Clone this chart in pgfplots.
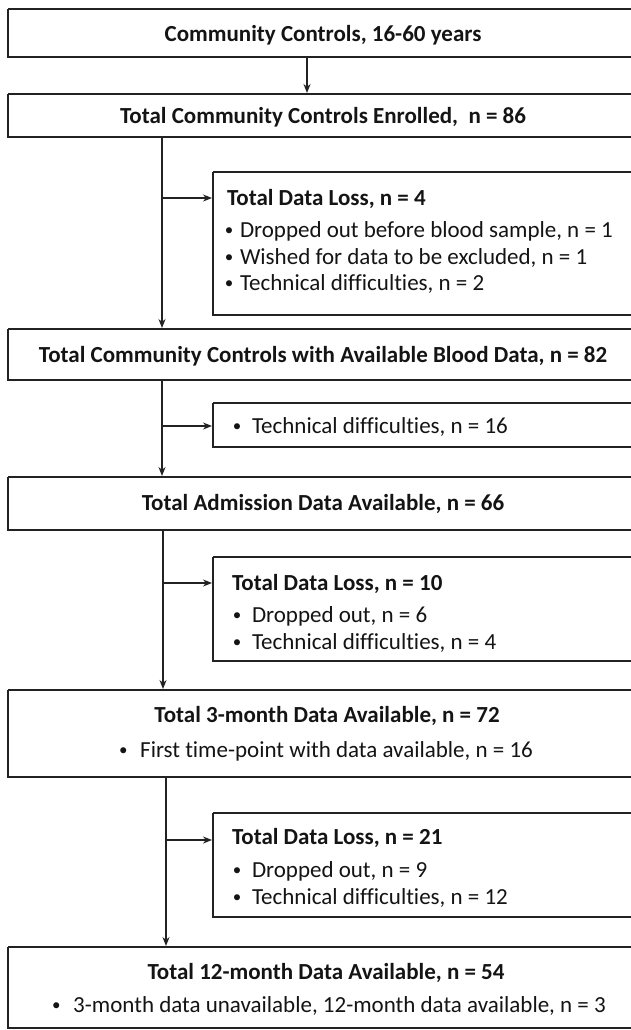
\documentclass[border=0pt]{standalone}
\usepackage{fontspec}
\setmainfont{Carlito}[RawFeature=-liga]
\usepackage{pgfplots}
\pgfplotsset{compat=1.18}
\usetikzlibrary{arrows.meta}
\definecolor{ln}{HTML}{222222}
\definecolor{tx}{HTML}{141414}
\newcommand{\bul}{\raisebox{1.6pt}{\fontsize{17}{17}\selectfont •}}
\tikzset{
  t/.style={inner sep=0pt, outer sep=0pt, text=tx, font=\fontsize{23}{28}\selectfont},
  tb/.style={t, font=\fontsize{23}{28}\selectfont\bfseries},
}
\begin{document}
\begin{tikzpicture}
\begin{axis}[
  scale only axis, width=631pt, height=1030pt,
  xmin=0, xmax=631, ymin=0, ymax=1030, y dir=reverse,
  axis lines=none, clip=true,
  box/.style={draw=ln, line width=1.7pt, no marks},
  arr/.style={draw=ln, line width=1.4pt, no marks, -{Stealth[length=9pt,width=7pt]}},
]
\path (axis cs:0,0) rectangle (axis cs:631,1030);
% boxes
\addplot[box] coordinates {(8,9) (645,9) (645,57) (8,57) (8,9)};
\addplot[box] coordinates {(8,94) (645,94) (645,137) (8,137) (8,94)};
\addplot[box] coordinates {(213,172) (645,172) (645,315) (213,315) (213,172)};
\addplot[box] coordinates {(8,329) (645,329) (645,380) (8,380) (8,329)};
\addplot[box] coordinates {(213,403) (645,403) (645,447) (213,447) (213,403)};
\addplot[box] coordinates {(8,477) (645,477) (645,530) (8,530) (8,477)};
\addplot[box] coordinates {(213,557) (645,557) (645,661) (213,661) (213,557)};
\addplot[box] coordinates {(8,690) (645,690) (645,777) (8,777) (8,690)};
\addplot[box] coordinates {(213,813) (645,813) (645,917) (213,917) (213,813)};
\addplot[box] coordinates {(8,947) (645,947) (645,1028) (8,1028) (8,947)};
% arrows
\addplot[arr] coordinates {(307,57) (307,93)};
\addplot[arr] coordinates {(162,137) (162,328)};
\addplot[arr] coordinates {(162,198) (212,198)};
\addplot[arr] coordinates {(162,380) (162,476)};
\addplot[arr] coordinates {(162,426) (212,426)};
\addplot[arr] coordinates {(163,530) (163,689)};
\addplot[arr] coordinates {(163,583) (212,583)};
\addplot[arr] coordinates {(166,777) (166,946)};
\addplot[arr] coordinates {(166,840) (212,840)};
% texts
\node[tb, anchor=base] at (axis cs:323,42) {Community Controls, 16-60 years};
\node[tb, anchor=base] at (axis cs:323,124) {Total Community Controls Enrolled,\ \ n = 86};
\node[tb, anchor=base west] at (axis cs:227,205) {Total Data Loss, n = 4};
\node[t, anchor=base] at (axis cs:229,237) {\bul};
\node[t, anchor=base west] at (axis cs:240,237) {Dropped out before blood sample, n = 1};
\node[t, anchor=base] at (axis cs:229,264) {\bul};
\node[t, anchor=base west] at (axis cs:240,264) {Wished for data to be excluded, n = 1};
\node[t, anchor=base] at (axis cs:229,290) {\bul};
\node[t, anchor=base west] at (axis cs:240,290) {Technical difficulties, n = 2};
\node[tb, anchor=base] at (axis cs:323,362) {Total Community Controls with Available Blood Data, n = 82};
\node[t, anchor=base] at (axis cs:237,433) {\bul};
\node[t, anchor=base west] at (axis cs:252,433) {Technical difficulties, n = 16};
\node[tb, anchor=base] at (axis cs:323,510) {Total Admission Data Available, n = 66};
\node[tb, anchor=base west] at (axis cs:232,590) {Total Data Loss, n = 10};
\node[t, anchor=base] at (axis cs:237,622) {\bul};
\node[t, anchor=base west] at (axis cs:252,622) {Dropped out, n = 6};
\node[t, anchor=base] at (axis cs:237,649) {\bul};
\node[t, anchor=base west] at (axis cs:252,649) {Technical difficulties, n = 4};
\node[tb, anchor=base] at (axis cs:327,722) {Total 3-month Data Available, n = 72};
\node[t, anchor=base] at (axis cs:326,757) {\bul\hspace{0.55em}First time-point with data available, n = 16};
\node[tb, anchor=base west] at (axis cs:232,844) {Total Data Loss, n = 21};
\node[t, anchor=base] at (axis cs:237,877) {\bul};
\node[t, anchor=base west] at (axis cs:252,877) {Dropped out, n = 9};
\node[t, anchor=base] at (axis cs:237,904) {\bul};
\node[t, anchor=base west] at (axis cs:252,904) {Technical difficulties, n = 12};
\node[tb, anchor=base] at (axis cs:326,979) {Total 12-month Data Available, n = 54};
\node[t, anchor=base] at (axis cs:329,1012) {\bul\hspace{0.55em}3-month data unavailable, 12-month data available, n = 3};
\end{axis}
\end{tikzpicture}
\end{document}
